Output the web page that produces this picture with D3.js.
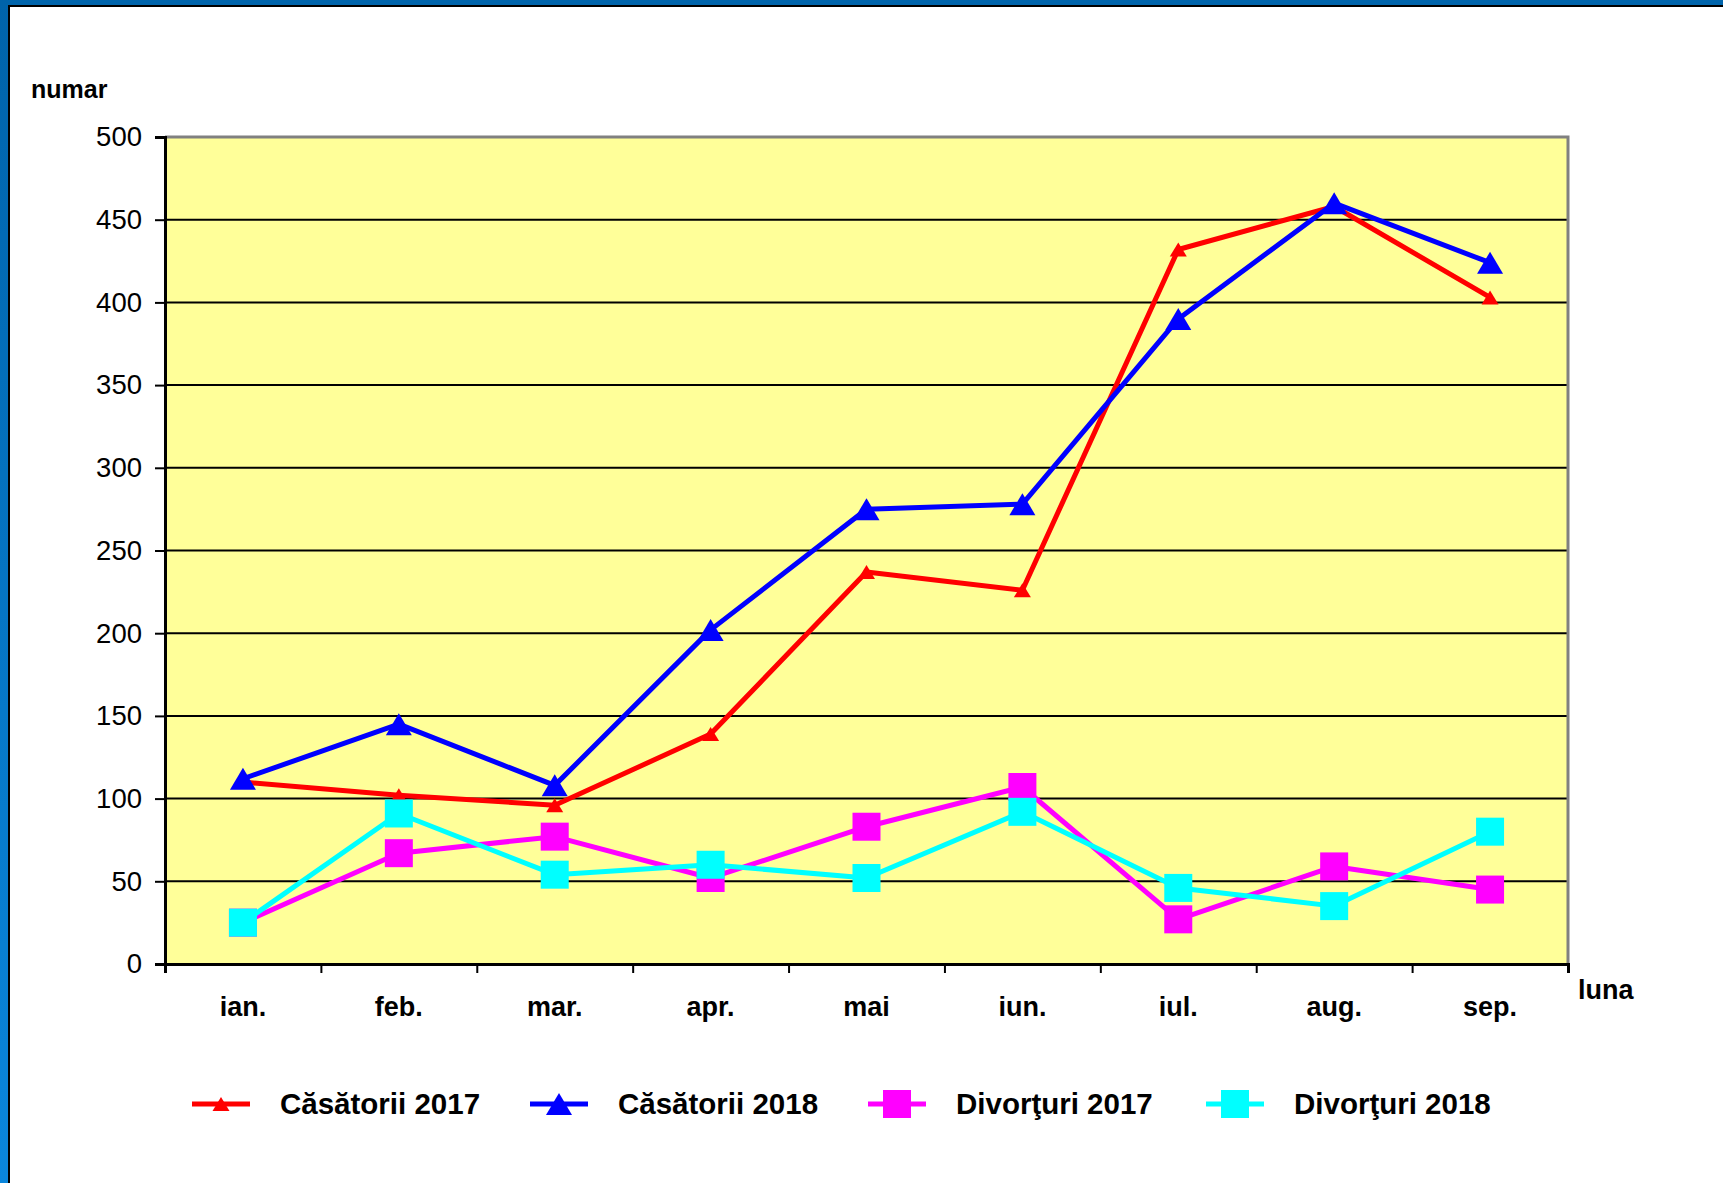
<!DOCTYPE html>
<html>
<head>
<meta charset="utf-8">
<title>Casatorii si divorturi</title>
<script src="https://cdn.jsdelivr.net/npm/d3@7"></script>
<style>
body { margin: 0; background: #ffffff; }
text { font-family: "Liberation Sans", Arial, sans-serif; }
</style>
</head>
<body>
<script>

// month labels (x axis)
var months = ["ian.", "feb.", "mar.", "apr.", "mai", "iun.", "iul.", "aug.", "sep."];

// y axis ticks
var yTicks = [0, 50, 100, 150, 200, 250, 300, 350, 400, 450, 500];

// series values
var casatorii2017 = [110, 102, 96, 139, 237, 226, 432, 458, 403];
var casatorii2018 = [112, 145, 108, 202, 275, 278, 390, 460, 424];
var divorturi2017 = [25, 67, 77, 52, 83, 107, 27, 59, 45];
var divorturi2018 = [25, 91, 54, 60, 52, 92, 46, 35, 80];

var seriesNames = ["Căsătorii 2017", "Căsătorii 2018", "Divorţuri 2017", "Divorţuri 2018"];

var series = [
	{name: seriesNames[0], values: casatorii2017, color: "#ff0000", marker: "tri", w: 17, h: 14},
	{name: seriesNames[1], values: casatorii2018, color: "#0000ff", marker: "tri", w: 26, h: 22},
	{name: seriesNames[2], values: divorturi2017, color: "#ff00ff", marker: "sq", w: 28, h: 28},
	{name: seriesNames[3], values: divorturi2018, color: "#00ffff", marker: "sq", w: 28, h: 28}
];

var W = 1723, H = 1183;
var margin = {top: 137, right: 155, bottom: 219, left: 165},
	width = W - margin.left - margin.right,
	height = H - margin.top - margin.bottom;

var svg = d3.select("body").append("svg")
	.attr("width", W)
	.attr("height", H);

// frame: blue band on top and left with black inner line
var defs = svg.append("defs");
var grad = defs.append("linearGradient")
	.attr("id", "leftband")
	.attr("x1", 0).attr("y1", 0).attr("x2", 0).attr("y2", 1);
grad.append("stop").attr("offset", "0%").attr("stop-color", "#0063aa");
grad.append("stop").attr("offset", "100%").attr("stop-color", "#0a86dc");

svg.append("rect").attr("x", 0).attr("y", 0).attr("width", W).attr("height", H).attr("fill", "#ffffff");
svg.append("rect").attr("x", 0).attr("y", 0).attr("width", W).attr("height", 5).attr("fill", "#0064ab");
svg.append("rect").attr("x", 0).attr("y", 5).attr("width", W).attr("height", 2).attr("fill", "#000000");
svg.append("rect").attr("x", 0).attr("y", 0).attr("width", 8).attr("height", H).attr("fill", "url(#leftband)");
svg.append("rect").attr("x", 8).attr("y", 5).attr("width", 2).attr("height", H - 5).attr("fill", "#000000");

var g = svg.append("g")
	.attr("transform", "translate(" + margin.left + "," + margin.top + ")");

// scales
var x = d3.scaleBand()
	.domain(months)
	.range([0, width])
	.padding(0);

var xEdges = d3.scaleLinear()
	.domain([0, months.length])
	.range([0, width]);

var y = d3.scaleLinear()
	.domain([0, 500])
	.range([height, 0]);

// plot background
g.append("rect")
	.attr("x", 0).attr("y", 0)
	.attr("width", width).attr("height", height)
	.attr("fill", "#ffff99");

// gridlines
g.append("g")
	.selectAll("line")
	.data(yTicks.filter(function(d) { return d > 0 && d < 500; }))
	.enter()
	.append("line")
	  .attr("x1", 0)
	  .attr("x2", width)
	  .attr("y1", function(d) { return y(d); })
	  .attr("y2", function(d) { return y(d); })
	  .attr("stroke", "#000000")
	  .attr("stroke-width", 2);

// gray top and right border
g.append("path")
	.attr("d", "M0," + y(500) + "H" + width + "V" + height)
	.attr("fill", "none")
	.attr("stroke", "#808080")
	.attr("stroke-width", 3);

// y axis
var yAxis = g.append("g")
	.call(d3.axisLeft(y).tickValues(yTicks).tickSize(10).tickPadding(13));
yAxis.selectAll("text")
	.style("font-size", "27.5px")
	.attr("fill", "#000000");
yAxis.selectAll("line").attr("stroke", "#000000").attr("stroke-width", 2);
yAxis.select(".domain").attr("stroke", "#000000").attr("stroke-width", 3);

// x axis: tick marks between the months
var xTickAxis = g.append("g")
	.attr("transform", "translate(0," + height + ")")
	.call(d3.axisBottom(xEdges).ticks(months.length).tickSize(9).tickFormat(""));
xTickAxis.selectAll("line").attr("stroke", "#000000").attr("stroke-width", 2);
xTickAxis.select(".domain").attr("stroke", "#000000").attr("stroke-width", 3);

// x axis: month labels
var xAxis = g.append("g")
	.attr("transform", "translate(0," + height + ")")
	.call(d3.axisBottom(x).tickSize(0).tickPadding(33));
xAxis.select(".domain").remove();
xAxis.selectAll("text")
	.style("font-size", "27px")
	.style("font-weight", "bold")
	.attr("fill", "#000000");

// axis titles
svg.append("text")
	.attr("x", 31)
	.attr("y", 98)
	.style("font-size", "25px")
	.style("font-weight", "bold")
	.text("numar");

svg.append("text")
	.attr("x", margin.left + width + 10)
	.attr("y", margin.top + height + 35)
	.style("font-size", "27px")
	.style("font-weight", "bold")
	.text("luna");

// marker shape
function markerPath(s) {
	if (s.marker == "tri") {
		return "M0," + (-s.h / 2) + "L" + (s.w / 2) + "," + (s.h / 2) + "L" + (-s.w / 2) + "," + (s.h / 2) + "Z";
	}
	return "M" + (-s.w / 2) + "," + (-s.h / 2) + "h" + s.w + "v" + s.h + "h" + (-s.w) + "Z";
}

var line = d3.line()
	.x(function(d, i) { return x(months[i]) + x.bandwidth() / 2; })
	.y(function(d) { return y(d); });

// lines and markers, series by series
series.forEach(function(s) {
	var sg = g.append("g");
	sg.append("path")
	  .datum(s.values)
	  .attr("d", line)
	  .attr("fill", "none")
	  .attr("stroke", s.color)
	  .attr("stroke-width", 5)
	  .attr("stroke-linejoin", "round");

	sg.selectAll(".mk")
	  .data(s.values)
	  .enter()
	  .append("path")
	  .attr("class", "mk")
	  .attr("transform", function(d, i) {
		return "translate(" + (x(months[i]) + x.bandwidth() / 2) + "," + y(d) + ")";
	  })
	  .attr("d", markerPath(s))
	  .attr("fill", s.color);
});

// legend
var legend = svg.append("g")
	.attr("transform", "translate(192,1104)");

var item = legend.selectAll(".item")
	.data(series)
	.enter()
	.append("g")
	.attr("class", "item")
	.attr("transform", function(d, i) { return "translate(" + (i * 338) + ",0)"; });

item.append("line")
	.attr("x1", 0).attr("x2", 58)
	.attr("y1", 0).attr("y2", 0)
	.attr("stroke", function(d) { return d.color; })
	.attr("stroke-width", 5);

item.append("path")
	.attr("transform", "translate(29,0)")
	.attr("d", function(d) { return markerPath(d); })
	.attr("fill", function(d) { return d.color; });

item.append("text")
	.attr("x", 88)
	.attr("y", 10)
	.style("font-size", "29.5px")
	.style("font-weight", "bold")
	.text(function(d) { return d.name; });

</script>
</body>
</html>
